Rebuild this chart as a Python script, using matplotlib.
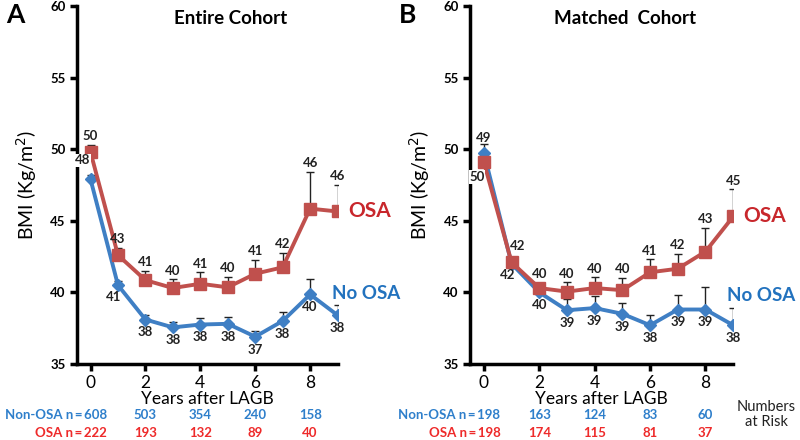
import numpy as np
import matplotlib.pyplot as plt

plt.rcParams['font.family'] = ['Lato', 'DejaVu Sans']

years = np.arange(10)

# Panel A - entire cohort
a_osa = [49.8, 42.6, 40.85, 40.3, 40.6, 40.35, 41.3, 41.75, 45.85, 45.65]
a_osa_err = [0.5, 0.5, 0.65, 0.6, 0.8, 0.75, 0.95, 1.0, 2.55, 1.85]
a_osa_lbl = [50, 43, 41, 40, 41, 40, 41, 42, 46, 46]
a_no = [47.9, 40.5, 38.1, 37.55, 37.75, 37.8, 36.9, 38.0, 39.85, 38.4]
a_no_err = [0.3, 0.3, 0.35, 0.35, 0.45, 0.5, 0.4, 0.65, 1.1, 0.7]
a_no_lbl = [48, 41, 38, 38, 38, 38, 37, 38, 40, 38]

# Panel B - matched cohort
b_osa = [49.1, 42.1, 40.3, 40.05, 40.3, 40.15, 41.4, 41.65, 42.85, 45.3]
b_osa_err = [0.0, 0.3, 0.35, 0.65, 0.75, 0.85, 0.9, 1.05, 1.65, 1.9]
b_osa_lbl = [50, 42, 40, 40, 40, 40, 41, 42, 43, 45]
b_no = [49.75, 42.0, 40.0, 38.75, 38.9, 38.5, 37.7, 38.8, 38.8, 37.7]
b_no_err = [0.6, 0.3, 0.4, 0.75, 0.85, 0.75, 0.7, 1.0, 1.55, 1.2]
b_no_lbl = [49, 42, 40, 39, 39, 39, 38, 39, 39, 38]

risk_x = [2, 4, 6, 8]
a_risk_no = [608, 503, 354, 240, 158]
a_risk_osa = [222, 193, 132, 89, 40]
b_risk_no = [198, 163, 124, 83, 60]
b_risk_osa = [198, 174, 115, 81, 37]

RED = '#C0504D'
BLUE = '#3F7FC4'
RED_TXT = '#C8272C'
BLUE_TXT = '#2272BE'
RISK_RED = '#EE2A2A'
RISK_BLUE = '#2E7FCB'
TXT = '#222222'

fig = plt.figure(figsize=(8, 4.4), dpi=100)
axA = fig.add_axes([0.096, 0.173, 0.326, 0.813])
axB = fig.add_axes([0.5875, 0.173, 0.329, 0.813])

WHITE_BOX = dict(boxstyle='square,pad=0.05', fc='white', ec='none')


def panel(ax, osa, osa_err, osa_lbl, no, no_err, no_lbl, title, letter,
          risk_no, risk_osa, osa_special, no_special, nolabel_y):
    z = np.zeros(len(years))
    ax.errorbar(years, osa, yerr=[z, osa_err], fmt='none', ecolor=TXT,
                elinewidth=1, capsize=3, capthick=1, zorder=2)
    ax.errorbar(years, no, yerr=[z, no_err], fmt='none', ecolor=TXT,
                elinewidth=1, capsize=3, capthick=1, zorder=2)
    ax.plot(years, no, color=BLUE, lw=2.8, marker='D', ms=6.5, zorder=3)
    ax.plot(years, osa, color=RED, lw=2.8, marker='s', ms=9, zorder=4)

    for i in range(len(years)):
        off = osa_special.get(i, (0, 2))
        box = WHITE_BOX if i == 0 and i in osa_special else None
        ax.annotate(str(osa_lbl[i]), (years[i], osa[i] + osa_err[i]),
                    xytext=off, textcoords='offset points', ha='center',
                    va='bottom', fontsize=9.5, fontweight='bold', color=TXT,
                    bbox=box, zorder=6)
        off = no_special.get(i, (0, -5))
        box = WHITE_BOX if i == 0 and off[0] < 0 else None
        ax.annotate(str(no_lbl[i]), (years[i], no[i]),
                    xytext=off, textcoords='offset points', ha='center',
                    va='top', fontsize=9.5, fontweight='bold', color=TXT,
                    bbox=box, zorder=6)

    ax.text(9.38, osa[-1], 'OSA', color=RED_TXT, fontsize=15, fontweight='bold',
            va='center', ha='left', clip_on=False)
    ax.text(8.78, nolabel_y, 'No OSA', color=BLUE_TXT, fontsize=13.5,
            fontweight='bold', va='center', ha='left', clip_on=False)

    ax.set_xlim(-0.5, 9)
    ax.set_ylim(35, 60)
    ax.set_xticks([0, 2, 4, 6, 8])
    ax.set_yticks([35, 40, 45, 50, 55, 60])
    for s in ['top', 'right']:
        ax.spines[s].set_visible(False)
    for s in ['left', 'bottom']:
        ax.spines[s].set_linewidth(2.5)
    ax.tick_params(axis='x', length=5, width=2.5, labelsize=12.5, pad=3)
    ax.tick_params(axis='y', length=5, width=2.5, labelsize=9.5, pad=3)
    for t in ax.get_yticklabels():
        t.set_fontweight('bold')
    ax.set_xlabel('Years after LAGB', fontsize=12.5, labelpad=0)
    ax.set_ylabel('BMI (Kg/m$^2$)', fontsize=14, labelpad=8)
    ax.text(0.59, 0.965, title, transform=ax.transAxes, fontsize=13.5,
            fontweight='bold', ha='center', va='center')
    ax.text(-0.27, 0.975, letter, transform=ax.transAxes, fontsize=19,
            fontweight='bold', ha='left', va='center')

    tr = ax.get_xaxis_transform()
    ax.text(0.6, -0.143, 'Non-OSA n\u2009=\u2009%d' % risk_no[0], transform=tr,
            ha='right', va='center', color=RISK_BLUE, fontsize=9.5,
            fontweight='bold', clip_on=False)
    ax.text(0.6, -0.193, 'OSA n\u2009=\u2009%d' % risk_osa[0], transform=tr,
            ha='right', va='center', color=RISK_RED, fontsize=9.5,
            fontweight='bold', clip_on=False)
    for xv, n1, n2 in zip(risk_x, risk_no[1:], risk_osa[1:]):
        ax.text(xv, -0.143, str(n1), transform=tr, ha='center', va='center',
                color=RISK_BLUE, fontsize=9.5, fontweight='bold', clip_on=False)
        ax.text(xv, -0.193, str(n2), transform=tr, ha='center', va='center',
                color=RISK_RED, fontsize=9.5, fontweight='bold', clip_on=False)


panel(axA, a_osa, a_osa_err, a_osa_lbl, a_no, a_no_err, a_no_lbl,
      'Entire Cohort', 'A', a_risk_no, a_risk_osa,
      {}, {0: (-6, 18), 1: (-3, -4)}, 39.95)
panel(axB, b_osa, b_osa_err, b_osa_lbl, b_no, b_no_err, b_no_lbl,
      'Matched  Cohort', 'B', b_risk_no, b_risk_osa,
      {0: (-5, -15), 1: (4, 4)}, {0: (0, 15), 1: (-3, -4)}, 39.8)

fig.text(0.958, 0.058, 'Numbers\nat Risk', ha='center', va='center',
         fontsize=10.5, linespacing=1.05, color=TXT)

fig.savefig('out.png', dpi=100)
